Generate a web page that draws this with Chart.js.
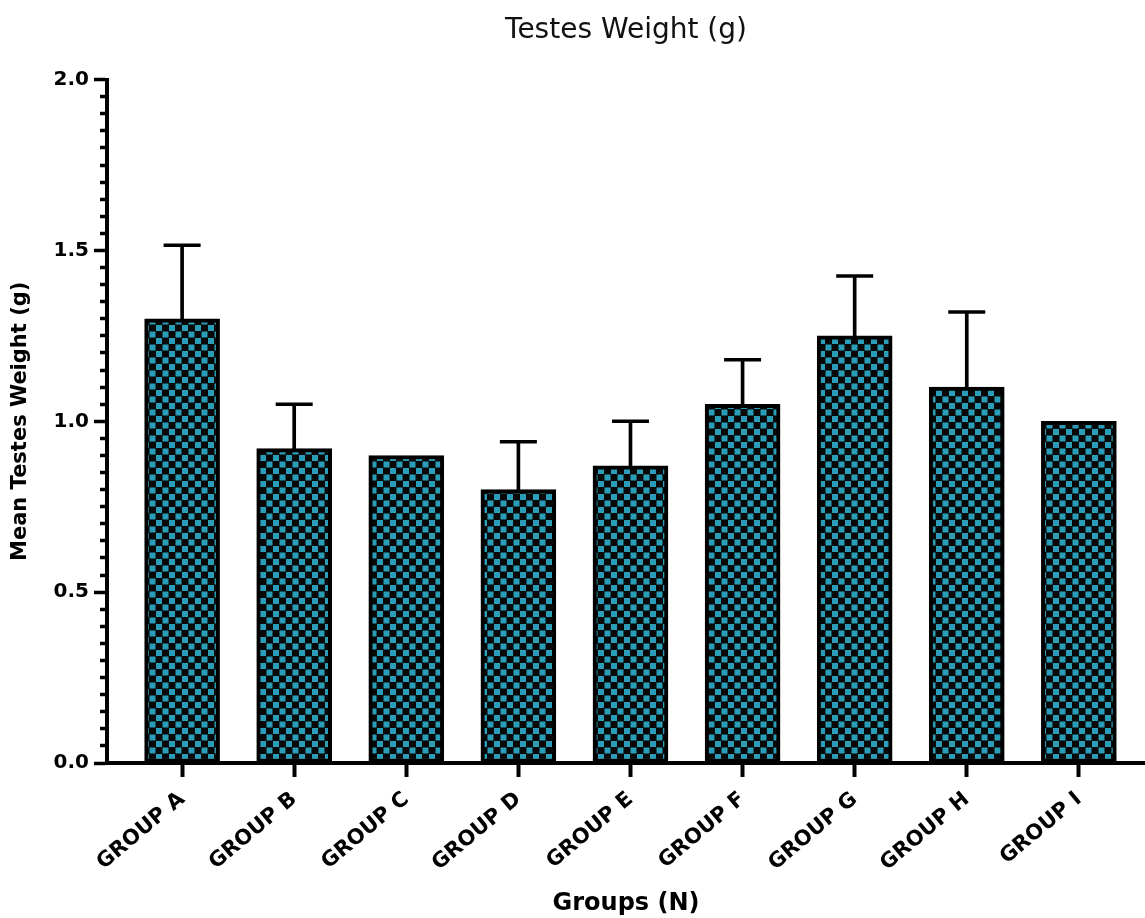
<!DOCTYPE html>
<html>
<head>
<meta charset="utf-8">
<title>Testes Weight (g)</title>
<script src="https://cdn.jsdelivr.net/npm/chart.js@4/dist/chart.umd.min.js"></script>
<style>
  html, body { margin: 0; padding: 0; background: #fff; }
  #wrap { width: 1145px; height: 918px; }
</style>
</head>
<body>
<div id="wrap"><canvas id="myChart" width="1145" height="918"></canvas></div>
<script>
// values
const groups = ["GROUP A", "GROUP B", "GROUP C", "GROUP D", "GROUP E", "GROUP F", "GROUP G", "GROUP H", "GROUP I"];
const meanWeight = [1.30, 0.92, 0.90, 0.80, 0.87, 1.05, 1.25, 1.10, 1.00];
const sdWeight = [0.215, 0.13, null, 0.14, 0.13, 0.13, 0.175, 0.22, null];
const yMin = 0;
const yMax = 2.0;
const yMinorStep = 0.05;
const yMajorStep = 0.5;

const ctx = document.getElementById("myChart").getContext("2d");

const isMajor = (v) => Math.abs(v / yMajorStep - Math.round(v / yMajorStep)) < 1e-6;

const makeChecker = () => {
  const c = document.createElement("canvas");
  c.width = 13;
  c.height = 13;
  const g = c.getContext("2d");
  g.fillStyle = "#080808";
  g.fillRect(0, 0, 13, 13);
  g.fillStyle = "#2a9db8";
  g.fillRect(0, 0, 6, 6);
  g.fillRect(6.5, 6.5, 6, 6);
  return g.createPattern(c, "repeat");
};

const barPoints = groups.map((g, i) => ({ x: i, y: meanWeight[i] }));
const stemPoints = groups
  .map((g, i) => (sdWeight[i] == null ? null : { x: i, y: [meanWeight[i], meanWeight[i] + sdWeight[i]] }))
  .filter((p) => p);
const capPoints = groups
  .map((g, i) => (sdWeight[i] == null ? null : { x: i, y: meanWeight[i] + sdWeight[i] }))
  .filter((p) => p);

const axisFont = { family: "'DejaVu Sans'", weight: "bold", size: 21 };

const myChart = new Chart(ctx, {
  type: "bar",
  data: {
    datasets: [
      {
        label: "Mean",
        data: barPoints,
        backgroundColor: makeChecker(),
        borderColor: "#000",
        borderWidth: 4,
        borderSkipped: false,
        barThickness: 75,
        grouped: false,
        order: 2,
      },
      {
        label: "SD",
        data: stemPoints,
        backgroundColor: "#000",
        borderWidth: 0,
        barThickness: 3,
        grouped: false,
        order: 3,
      },
      {
        type: "scatter",
        label: "cap",
        data: capPoints,
        pointStyle: "line",
        pointRadius: 18.5,
        pointHoverRadius: 18.5,
        borderColor: "#000",
        borderWidth: 3.5,
        order: 1,
      },
    ],
  },
  options: {
    responsive: false,
    animation: false,
    layout: { padding: 0, autoPadding: false },
    plugins: {
      legend: { display: false },
      tooltip: { enabled: false },
      title: {
        display: true,
        text: "Testes Weight (g)",
        fullSize: false,
        color: "#111",
        font: { family: "'DejaVu Sans'", weight: "normal", size: 28 },
        padding: { top: 14, bottom: 32 },
      },
    },
    scales: {
      x: {
        type: "linear",
        min: -0.67,
        max: 8.59,
        offset: false,
        afterFit: (s) => {
          s.height = 155;
          s.paddingLeft = 0;
          s.paddingRight = 0;
        },
        afterBuildTicks: (s) => {
          s.ticks = groups.map((g, i) => ({ value: i }));
        },
        border: { color: "#000", width: 4 },
        grid: {
          offset: false,
          drawOnChartArea: false,
          tickLength: 14,
          tickWidth: 4,
          tickColor: "#000",
        },
        ticks: {
          autoSkip: false,
          minRotation: 40,
          maxRotation: 40,
          padding: 10,
          color: "#000",
          font: axisFont,
          callback: (v) => groups[v] ?? "",
        },
        title: {
          display: true,
          text: "Groups (N)",
          color: "#000",
          font: { family: "'DejaVu Sans'", weight: "bold", size: 24 },
          padding: { top: 0, bottom: 0 },
        },
      },
      y: {
        min: yMin,
        max: yMax,
        afterFit: (s) => {
          s.width = 107;
        },
        border: { color: "#000", width: 4 },
        grid: {
          drawOnChartArea: false,
          tickLength: 13,
          tickWidth: 3.5,
          tickColor: "#000",
          tickBorderDash: (c) => (c.tick && isMajor(c.tick.value) ? [] : [0, 6, 6]),
        },
        ticks: {
          stepSize: yMinorStep,
          autoSkip: false,
          padding: 5,
          color: "#000",
          font: { family: "'DejaVu Sans'", weight: "bold", size: 20 },
          callback: (v) => (isMajor(v) ? Number(v).toFixed(1) : ""),
        },
        title: {
          display: true,
          text: "Mean Testes Weight (g)",
          color: "#000",
          font: axisFont,
          padding: { top: 8, bottom: 0 },
        },
      },
    },
  },
});
</script>
</body>
</html>
